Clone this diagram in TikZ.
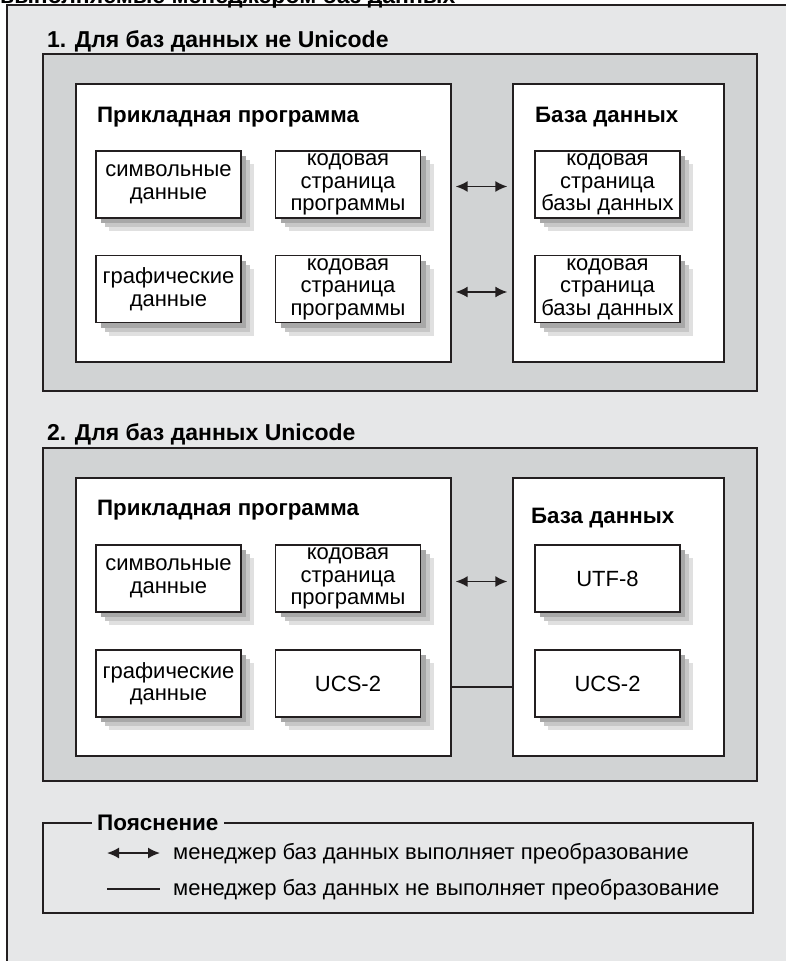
\documentclass[tikz,border=0pt]{standalone}
\usepackage{fontspec}
\setmainfont{Liberation Sans}
\usetikzlibrary{arrows.meta,shadows}
\definecolor{paper}{HTML}{E6E7E8}
\definecolor{panel}{HTML}{D1D3D4}
\definecolor{ink}{HTML}{231F20}
\newcommand\itemfont{\fontsize{22}{22.5}\selectfont}
\newcommand\headfont{\fontsize{23}{26}\selectfont\bfseries}
\newcommand\partfont{\fontsize{22.3}{25}\selectfont\bfseries}
\newcommand\notefont{\fontsize{22}{25}\selectfont}
\newcommand\noteheadfont{\fontsize{22.5}{25}\selectfont\bfseries}
\tikzset{%
    >={Latex[length=12pt,width=11pt]},
    frame/.style={draw=ink, line width=1.3pt, inner sep=0pt},
    section/.style={frame, fill=panel, minimum width=714pt},
    holder/.style={frame, fill=white, minimum height=278pt},
    item/.style={frame, fill=white, minimum width=145pt, minimum height=67pt,
        align=center, font=\itemfont,
        drop shadow={shadow xshift=13pt, shadow yshift=-13pt, fill=black!12, opacity=1},
        drop shadow={shadow xshift=9pt, shadow yshift=-9pt, fill=black!22, opacity=1},
        drop shadow={shadow xshift=5pt, shadow yshift=-5pt, fill=black!34, opacity=1}},
    heading/.style={anchor=base west, inner sep=0pt, font=\headfont},
    part/.style={anchor=base west, inner sep=0pt, font=\partfont},
    note/.style={anchor=base west, inner sep=0pt, font=\notefont},
    conv/.style={<->, draw=ink, line width=1.7pt, shorten <=4pt, shorten >=5pt},
    plain/.style={draw=ink, line width=1.3pt}
}

\begin{document}
\begin{tikzpicture}[x=1pt, y=-1pt]
        \useasboundingbox (0,0) rectangle (785,961);
        \draw[draw=ink, fill=paper, line width=1.3pt] (7,5) rectangle (800,990);
        \node[heading] (topline) at (0,4) {выполняемые менеджером баз данных};

        \node[heading] (title1) at (47,47) {1. Для баз данных не Unicode};
        \node[section, minimum height=337pt] (part1) at (400,222.5) {};
        \node[holder, minimum width=375pt] (app1) at (263.5,223) {};
        \node[holder, minimum width=211pt] (db1) at (618.5,223) {};
        \node[part] (apptitle1) at (97,122) {Прикладная программа};
        \node[part] (dbtitle1) at (535,122) {База данных};
        \node[item] (s1a) at (168.5,184.5) {символьные\\данные};
        \node[item] (s1b) at (348,184.5) {кодовая\\страница\\программы};
        \node[item] (s1c) at (168.5,289) {графические\\данные};
        \node[item] (s1d) at (348,289) {кодовая\\страница\\программы};
        \node[item] (d1a) at (607.5,184.5) {кодовая\\страница\\базы данных};
        \node[item] (d1b) at (607.5,289) {кодовая\\страница\\базы данных};
        \draw[conv] ([yshift=-2pt]app1.east |- s1b.east) -- ([yshift=-2pt]db1.west |- d1a.west);
        \draw[conv] ([yshift=-3pt]app1.east |- s1d.east) -- ([yshift=-3pt]db1.west |- d1b.west);

        \node[heading] (title2) at (47,440) {2. Для баз данных Unicode};
        \node[section, minimum height=333pt] (part2) at (400,614.5) {};
        \node[holder, minimum width=375pt] (app2) at (263.5,617) {};
        \node[holder, minimum width=211pt] (db2) at (618.5,617) {};
        \node[part] (apptitle2) at (97,515) {Прикладная программа};
        \node[part] (dbtitle2) at (531,523) {База данных};
        \node[item] (s2a) at (168.5,578.5) {символьные\\данные};
        \node[item] (s2b) at (348,578.5) {кодовая\\страница\\программы};
        \node[item] (s2c) at (168.5,683.5) {графические\\данные};
        \node[item] (s2d) at (348,683.5) {UCS-2};
        \node[item] (d2a) at (607.5,578.5) {UTF-8};
        \node[item] (d2b) at (607.5,683.5) {UCS-2};
        \draw[conv] ([yshift=-3pt]app2.east |- s2b.east) -- ([yshift=-3pt]db2.west |- d2a.west);
        \draw[plain] ([yshift=-3.5pt]app2.east |- s2d.east) -- ([yshift=-3.5pt]db2.west |- d2b.west);

        \node[frame, minimum width=710pt, minimum height=90pt] (legend) at (398,868) {};
        \node[anchor=base west, fill=paper, inner xsep=5pt, inner ysep=2pt, font=\noteheadfont] (legendhead) at (92,830) {Пояснение};
        \coordinate (key1a) at (107,853);
        \coordinate (key1b) at (160,853);
        \draw[conv, shorten <=0pt, shorten >=0pt] (key1a) -- (key1b);
        \node[note] (key1) at (173,859) {менеджер баз данных выполняет преобразование};
        \coordinate (key2a) at (107,889);
        \coordinate (key2b) at (160,889);
        \draw[plain] (key2a) -- (key2b);
        \node[note] (key2) at (173,895) {менеджер баз данных не выполняет преобразование};
    \end{tikzpicture}
\end{document}
